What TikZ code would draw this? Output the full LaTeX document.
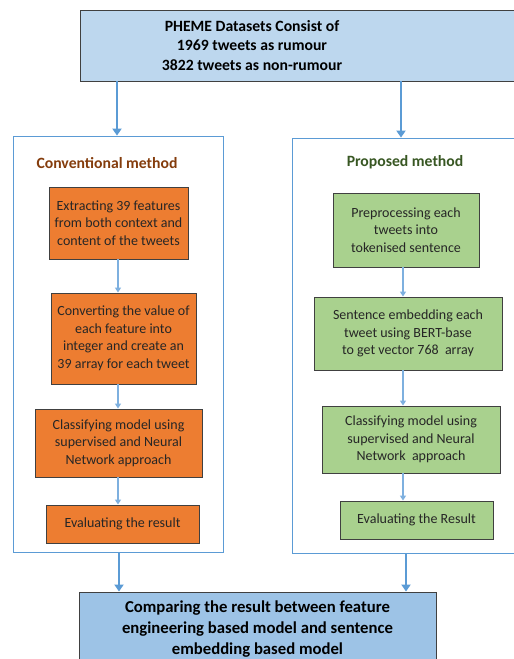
\documentclass[tikz,border=0pt]{standalone}
\usepackage{fontspec}
\setmainfont{Carlito}
\usetikzlibrary{arrows.meta}

\definecolor{topblue}{HTML}{BDD7EE}
\definecolor{botblue}{HTML}{9DC3E6}
\definecolor{arrowblue}{HTML}{5B9BD5}
\definecolor{thinblue}{HTML}{7EB0DF}
\definecolor{convorange}{HTML}{ED7D31}
\definecolor{propgreen}{HTML}{A9D18E}
\definecolor{convtitle}{HTML}{843C0C}
\definecolor{proptitle}{HTML}{385723}
\definecolor{boxline}{HTML}{404040}

\begin{document}
\begin{tikzpicture}[x=1pt,y=-1pt,
  panel/.style={draw=arrowblue,line width=0.8pt,inner sep=0pt},
  convbox/.style={draw=boxline,fill=convorange,line width=0.9pt,align=center,
    inner sep=0pt,text=black!85,font=\fontsize{14}{17.5}\selectfont},
  propbox/.style={convbox,fill=propgreen},
  headbox/.style={draw=boxline,line width=0.9pt,inner sep=0pt},
  headtext/.style={align=center,font=\bfseries\fontsize{15.7}{19.5}\selectfont},
  paneltitle/.style={font=\bfseries\fontsize{15.7}{18}\selectfont},
  bigarrow/.style={draw=arrowblue,line width=2.6pt,
    -{Triangle[width=9pt,length=7pt]}},
  smallarrow/.style={draw=thinblue,line width=1.3pt,
    -{Triangle[width=6pt,length=5pt]}}]
  \useasboundingbox (0,0) rectangle (514,659);

  % data set box on top
  \node[headbox,fill=topblue,minimum width=460,minimum height=71,anchor=west]
    (pheme) at (80,45.5) {};
  \node[headtext] (phemetxt) at (252,45.5)
    {PHEME Datasets Consist of\\1969 tweets as rumour\\3822 tweets as non-rumour};

  % the two method panels
  \node[panel,minimum width=210,minimum height=416] (convpanel) at (118,344) {};
  \node[panel,minimum width=232,minimum height=415] (proppanel) at (408,345.5) {};
  \node[paneltitle,text=convtitle] (convtitle) at (107,163) {Conventional method};
  \node[paneltitle,text=proptitle] (proptitle) at (405,162) {Proposed method};

  % conventional steps
  \node[convbox,minimum width=139,minimum height=72] (extract) at (118.5,223)
    {Extracting 39 features\\from both context and\\content of the tweets};
  \node[convbox,minimum width=145,minimum height=91] (convert) at (123.5,338.5)
    {Converting the value of\\each feature into\\integer and create an\\39 array for each tweet};
  \node[convbox,minimum width=167,minimum height=68] (convclass) at (118.5,443)
    {Classifying model using\\supervised and Neural\\Network approach};
  \node[convbox,minimum width=153,minimum height=38] (conveval) at (122.5,524)
    {Evaluating the result};

  % proposed steps
  \node[propbox,minimum width=146,minimum height=74] (preproc) at (406,230)
    {Preprocessing each\\tweets into\\tokenised sentence};
  \node[propbox,minimum width=188,minimum height=73] (embed) at (408,333.5)
    {Sentence embedding each\\tweet using BERT-base\\to get vector 768~ array};
  \node[propbox,minimum width=178,minimum height=67] (propclass) at (411,439.5)
    {Classifying model using\\supervised and Neural\\Network~ approach};
  \node[propbox,minimum width=153,minimum height=38] (propeval) at (416.5,520)
    {Evaluating the Result};

  % comparison box at the bottom
  \node[headbox,fill=botblue,minimum width=357,minimum height=74]
    (compare) at (257.5,629)
    {};
  \node[headtext,font=\bfseries\fontsize{16.7}{21}\selectfont] (comparetxt) at (257.5,629)
    {Comparing the result between feature\\engineering based model and sentence\\embedding based model};

  % arrows
  \coordinate (lin) at (117,0);
  \coordinate (rin) at (401,0);
  \coordinate (lx) at (118,0);
  \coordinate (rx) at (403,0);
  \coordinate (lout) at (119,0);
  \coordinate (rout) at (406,0);
  \draw[bigarrow] (pheme.south -| lin) -- (convpanel.north -| lin);
  \draw[bigarrow] (pheme.south -| rin) -- (proppanel.north -| rin);
  \draw[smallarrow] (extract.south -| lx) -- (convert.north -| lx);
  \draw[smallarrow] (convert.south -| lx) -- (convclass.north -| lx);
  \draw[smallarrow] (convclass.south -| lx) -- (conveval.north -| lx);
  \draw[smallarrow] (preproc.south -| rx) -- (embed.north -| rx);
  \draw[smallarrow] (embed.south -| rx) -- (propclass.north -| rx);
  \draw[smallarrow] (propclass.south -| rx) -- (propeval.north -| rx);
  \draw[bigarrow] (convpanel.south -| lout) -- (compare.north -| lout);
  \draw[bigarrow] (proppanel.south -| rout) -- (compare.north -| rout);
\end{tikzpicture}
\end{document}
